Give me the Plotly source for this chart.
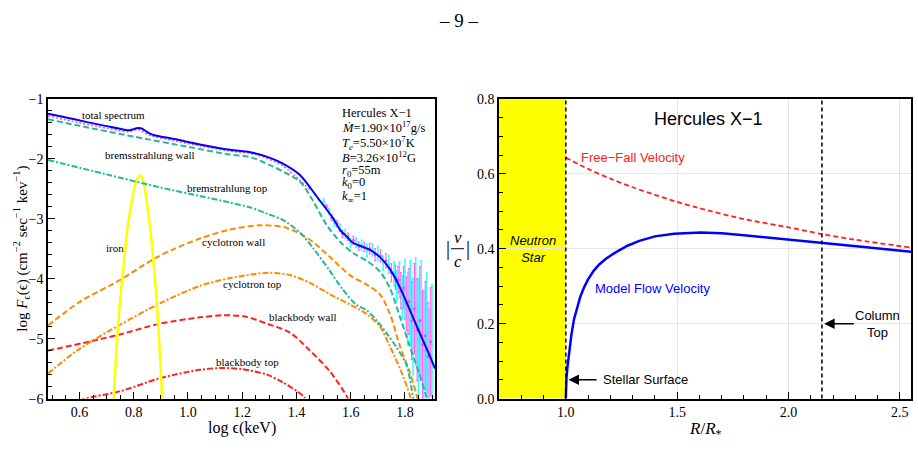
import plotly.graph_objects as go

W, H = 918, 453

# ---------------- Left panel: spectrum (log eps vs log F) ----------------
total_x = [0.484, 0.55, 0.62, 0.70, 0.76, 0.785, 0.80, 0.815, 0.83, 0.845, 0.86, 0.88, 0.95, 1.044,
           1.155, 1.229, 1.30, 1.35, 1.413, 1.48, 1.535, 1.56, 1.586, 1.608, 1.634, 1.671, 1.708,
           1.745, 1.782, 1.818, 1.855, 1.892, 1.911]
total_y = [-1.25, -1.31, -1.38, -1.455, -1.51, -1.525, -1.505, -1.485, -1.495, -1.54, -1.58, -1.61,
           -1.67, -1.76, -1.85, -1.89, -1.98, -2.08, -2.27, -2.66, -2.99, -3.18, -3.30, -3.40, -3.45,
           -3.52, -3.64, -3.84, -4.15, -4.52, -4.91, -5.29, -5.50]

brem_wall_x = [0.484, 0.6, 0.8, 1.0, 1.155, 1.229, 1.30, 1.35, 1.413, 1.461, 1.511, 1.56, 1.608,
               1.659, 1.708, 1.745, 1.782, 1.818, 1.855, 1.88, 1.89]
brem_wall_y = [-1.34, -1.45, -1.63, -1.80, -1.93, -1.97, -2.10, -2.21, -2.38, -2.70, -3.10, -3.38,
               -3.57, -3.70, -3.88, -4.16, -4.64, -5.13, -5.61, -5.98, -6.1]

brem_top_x = [0.484, 0.7, 0.9, 1.044, 1.155, 1.229, 1.30, 1.35, 1.413, 1.46, 1.52, 1.571, 1.62,
              1.66, 1.70, 1.734, 1.77, 1.807, 1.83, 1.835]
brem_top_y = [-2.02, -2.26, -2.48, -2.62, -2.73, -2.81, -2.93, -3.02, -3.23, -3.48, -3.85, -4.18,
              -4.43, -4.53, -4.72, -4.92, -5.15, -5.45, -5.98, -6.1]

iron_x = [0.725, 0.728, 0.735, 0.743, 0.753, 0.765, 0.778, 0.798, 0.812, 0.823, 0.834, 0.844,
          0.860, 0.872, 0.882, 0.890, 0.897, 0.903, 0.905]
iron_y = [-6.1, -5.83, -5.29, -4.75, -4.21, -3.67, -3.13, -2.59, -2.33, -2.28, -2.35, -2.59,
          -3.13, -3.67, -4.21, -4.75, -5.29, -5.83, -6.1]

cyc_wall_x = [0.484, 0.60, 0.75, 0.878, 0.946, 1.044, 1.155, 1.265, 1.363, 1.45, 1.524, 1.597,
              1.659, 1.708, 1.745, 1.782, 1.818, 1.843, 1.85]
cyc_wall_y = [-4.78, -4.39, -4.02, -3.66, -3.51, -3.33, -3.18, -3.11, -3.15, -3.35, -3.64, -3.94,
              -4.10, -4.26, -4.59, -5.13, -5.56, -5.94, -6.1]

cyc_top_x = [0.484, 0.60, 0.749, 0.897, 1.044, 1.155, 1.25, 1.302, 1.376, 1.45, 1.524, 1.597,
             1.659, 1.708, 1.745, 1.782, 1.818, 1.825]
cyc_top_y = [-5.58, -5.17, -4.77, -4.41, -4.12, -3.99, -3.92, -3.90, -3.94, -4.07, -4.26, -4.43,
             -4.59, -4.80, -5.13, -5.50, -5.94, -6.1]

bb_wall_x = [0.484, 0.636, 0.749, 0.897, 1.044, 1.13, 1.21, 1.291, 1.376, 1.45, 1.524, 1.59, 1.595]
bb_wall_y = [-5.20, -5.05, -4.93, -4.75, -4.645, -4.61, -4.63, -4.75, -4.90, -5.20, -5.55, -6.0, -6.1]

bb_top_x = [0.60, 0.62, 0.749, 0.897, 1.044, 1.12, 1.20, 1.291, 1.35, 1.40, 1.43, 1.44]
bb_top_y = [-6.04, -6.0, -5.88, -5.66, -5.52, -5.49, -5.51, -5.60, -5.73, -5.87, -5.98, -6.05]

# observed data (low energy trace + scattered high-energy points)
obs_low_x = [0.484, 0.6, 0.7, 0.78, 0.815, 0.86, 0.95, 1.05, 1.15, 1.25, 1.35, 1.45]
obs_low_y = [-1.285, -1.40, -1.49, -1.55, -1.51, -1.61, -1.70, -1.79, -1.87, -1.93, -2.12, -2.52]

obs_cyan_x = [1.50, 1.52, 1.54, 1.56, 1.58, 1.60, 1.62, 1.64, 1.66, 1.68, 1.70, 1.72, 1.74, 1.76,
              1.77, 1.78, 1.79, 1.80, 1.81, 1.82, 1.83, 1.84, 1.85, 1.86, 1.87, 1.88, 1.89, 1.90]
obs_cyan_y = [-2.72, -2.88, -3.06, -3.15, -3.25, -3.40, -3.40, -3.44, -3.53, -3.52, -3.58, -3.74,
              -3.76, -3.92, -4.12, -4.02, -4.30, -4.18, -4.50, -4.40, -4.80, -4.55, -5.0, -4.7,
              -5.2, -4.9, -5.5, -5.1]
obs_cyan_err = [0.05, 0.05, 0.06, 0.06, 0.07, 0.07, 0.08, 0.08, 0.1, 0.1, 0.12, 0.12, 0.15, 0.2,
                0.25, 0.3, 0.35, 0.5, 0.6, 0.7, 0.8, 0.9, 1.0, 1.0, 1.0, 1.0, 1.0, 1.0]

obs_mag_x = [1.51, 1.53, 1.55, 1.57, 1.59, 1.61, 1.63, 1.65, 1.67, 1.69, 1.71, 1.73, 1.75, 1.765,
             1.775, 1.785, 1.795, 1.805, 1.815, 1.825, 1.835, 1.845, 1.855, 1.865, 1.875, 1.885, 1.895]
obs_mag_y = [-2.80, -2.98, -3.08, -3.25, -3.30, -3.36, -3.46, -3.47, -3.50, -3.60, -3.62, -3.70,
             -3.90, -3.98, -4.02, -4.20, -4.15, -4.42, -4.38, -4.70, -4.50, -4.85, -4.70, -5.10,
             -4.95, -5.30, -5.05]
obs_mag_err = [0.04, 0.05, 0.05, 0.06, 0.06, 0.07, 0.07, 0.08, 0.09, 0.1, 0.1, 0.12, 0.15, 0.2,
               0.22, 0.3, 0.35, 0.45, 0.55, 0.65, 0.75, 0.85, 0.9, 0.9, 0.9, 0.9, 0.9]

# ---------------- Right panel: velocity profile ----------------
ff_R = [1.0, 1.1, 1.2, 1.3, 1.4, 1.5, 1.6, 1.8, 2.0, 2.15, 2.3, 2.55]
ff_v = [0.643, 0.613, 0.587, 0.564, 0.544, 0.525, 0.508, 0.479, 0.457, 0.439, 0.424, 0.403]

model_R = [1.0, 1.001, 1.003, 1.0075, 1.015, 1.025, 1.037, 1.05, 1.065, 1.082, 1.10, 1.125, 1.15,
           1.18, 1.22, 1.277, 1.33, 1.40, 1.486, 1.605, 1.7, 1.8, 2.0, 2.15, 2.35, 2.55]
model_v = [0.0, 0.03, 0.055, 0.085, 0.122, 0.170, 0.212, 0.243, 0.272, 0.297, 0.318, 0.341, 0.358,
           0.373, 0.389, 0.408, 0.421, 0.433, 0.440, 0.443, 0.441, 0.436, 0.425, 0.416, 0.404,
           0.392]

star_R = [0.7, 1.0]
surface_R = 1.0
column_top_R = 2.15

left_xticks = [0.6, 0.8, 1.0, 1.2, 1.4, 1.6, 1.8]
left_yticks = [-6, -5, -4, -3, -2, -1]
right_xticks = [1.0, 1.5, 2.0, 2.5]
right_yticks = [0.0, 0.2, 0.4, 0.6, 0.8]

TEAL = "#22bb99"
ORANGE = "#ff8a00"
RED = "#ff2020"
SERIF = "Liberation Serif"
SANS = "Liberation Sans"
WALL_DASH = "6px,3px"
TOP_DASH = "6px,2px,2px,2px"

fig = go.Figure()

def L(x, y, color, width=2, dash="solid", xa="x", ya="y", shape="spline"):
    fig.add_trace(go.Scatter(x=x, y=y, mode="lines", xaxis=xa, yaxis=ya, showlegend=False,
                             hoverinfo="skip",
                             line=dict(color=color, width=width, dash=dash, shape=shape,
                                       smoothing=0.8 if shape == "spline" else None)))

# observed data
fig.add_trace(go.Scatter(x=obs_cyan_x, y=obs_cyan_y, mode="markers", xaxis="x", yaxis="y",
                         showlegend=False, marker=dict(color="#33ffff", size=3),
                         error_y=dict(type="data", array=obs_cyan_err, color="#33ffff",
                                      thickness=1.5, width=1)))
fig.add_trace(go.Scatter(x=obs_mag_x, y=obs_mag_y, mode="markers", xaxis="x", yaxis="y",
                         showlegend=False, marker=dict(color="#ff44ff", size=3),
                         error_y=dict(type="data", array=obs_mag_err, color="#ff66ff",
                                      thickness=1.2, width=1)))
L(obs_low_x, obs_low_y, "#ff44ff", 1.5, "2px,2px")

L(bb_top_x, bb_top_y, RED, 2, TOP_DASH)
L(bb_wall_x, bb_wall_y, RED, 2, WALL_DASH)
L(cyc_top_x, cyc_top_y, ORANGE, 2, TOP_DASH)
L(cyc_wall_x, cyc_wall_y, ORANGE, 2, WALL_DASH)
L(iron_x, iron_y, "#ffff00", 2.5)
L(brem_top_x, brem_top_y, TEAL, 2, TOP_DASH)
L(brem_wall_x, brem_wall_y, TEAL, 2, WALL_DASH)
L(total_x, total_y, "#0000ff", 2)

# right panel
L(ff_R, ff_v, RED, 1.8, "5px,3px", "x2", "y2")
L(model_R, model_v, "#0000ff", 2.5, "solid", "x2", "y2", shape="linear")

shapes = [
    dict(type="rect", xref="x2", yref="y2 domain", x0=star_R[0], x1=star_R[1], y0=0, y1=1,
         fillcolor="#ffff00", line=dict(width=0), layer="below"),
    dict(type="line", xref="x2", yref="y2 domain", x0=surface_R, x1=surface_R, y0=0, y1=1,
         line=dict(color="black", width=1.5, dash="4px,3px")),
    dict(type="line", xref="x2", yref="y2 domain", x0=column_top_R, x1=column_top_R, y0=0, y1=1,
         line=dict(color="black", width=1.5, dash="4px,3px")),
    # fraction bar of |v/c|
    dict(type="line", xref="paper", yref="paper", x0=451 / W, x1=464 / W,
         y0=1 - 250 / H, y1=1 - 250 / H, line=dict(color="black", width=1)),
]

ann = []

def A(text, x, y, size=11, font=SERIF, color="black", xanchor="center", xref="paper",
      yref="paper", **kw):
    ann.append(dict(text=text, x=x, y=y, xref=xref, yref=yref, showarrow=False,
                    xanchor=xanchor, yanchor="middle",
                    font=dict(family=font, size=size, color=color), **kw))

def P(text, px, py, **kw):
    A(text, px / W, 1 - py / H, **kw)

# page number
P("– 9 –", 459, 14, size=19)

# left labels
P("total spectrum", 113, 112)
P("bremsstrahlung wall", 150, 153)
P("bremstrahlung top", 227, 187)
P("iron", 115, 249)
P("cyclotron wall", 233, 243)
P("cyclotron top", 253, 286)
P("blackbody wall", 303, 321)
P("blackbody top", 247, 367)

info = ["Hercules X−1",
        "<i>Ṁ</i>=1.90×10<sup>17</sup>g/s",
        "<i>T<sub>e</sub></i>=5.50×10<sup>7</sup>K",
        "<i>B</i>=3.26×10<sup>12</sup>G",
        "<i>r</i><sub>0</sub>=55m",
        "<i>k</i><sub>0</sub>=0",
        "<i>k</i><sub>∞</sub>=1"]
info_py = [109.5, 124.5, 140.5, 155.5, 169.5, 182.5, 196.5]
for t, py in zip(info, info_py):
    P(t, 340, py, size=12.5, xanchor="left")

P("log <i>F</i><sub>ϵ</sub>(ϵ) (cm<sup>−2</sup> sec<sup>−1</sup> kev<sup>−1</sup>)", 21, 250,
  size=15, textangle=-90)
P("log ϵ(keV)", 242, 435, size=16)

# right labels
A("Hercules X−1", 1.641, 0.746, size=18, font=SANS, xref="x2", yref="y2")
A("Free−Fall Velocity", 1.058, 0.643, size=13, font=SANS, color=RED, xanchor="left",
  xref="x2", yref="y2")
A("Model Flow Velocity", 1.124, 0.293, size=13, font=SANS, color="#0000ff", xanchor="left",
  xref="x2", yref="y2")
A("<i>Neutron</i><br><i>Star</i>", 0.853, 0.40, size=13, font=SANS, xref="x2", yref="y2")
A("Stellar Surface", 1.157, 0.05, size=13, font=SANS, xanchor="left", xref="x2", yref="y2")
A("Column<br>Top", 2.398, 0.20, size=13, font=SANS, xref="x2", yref="y2")
ann.append(dict(text="", x=1.012, y=0.05, xref="x2", yref="y2", ax=1.145, ay=0.05,
                axref="x2", ayref="y2", showarrow=True, arrowhead=2, arrowsize=1.4,
                arrowwidth=1.5, arrowcolor="black"))
ann.append(dict(text="", x=2.16, y=0.20, xref="x2", yref="y2", ax=2.30, ay=0.20,
                axref="x2", ayref="y2", showarrow=True, arrowhead=2, arrowsize=1.4,
                arrowwidth=1.5, arrowcolor="black"))

# |v/c| label
P("|", 448, 250, size=20, font=SERIF)
P("|", 468, 250, size=20, font=SERIF)
P("<i>v</i>", 457.5, 238, size=17, font=SERIF)
P("<i>c</i>", 457.5, 263, size=17, font=SERIF)
P("<i>R</i>/<i>R</i><sub>*</sub>", 705, 437, size=17, font=SERIF)

ydom = [1 - 405 / H, 1 - 95 / H]
LX_DOM = [48 / W, 435 / W]
RX_DOM = [499 / W, 911 / W]
LX_RANGE = [0.484, 1.911]
LY_RANGE = [-6, -1]
RX_RANGE = [0.7, 2.55]
RY_RANGE = [0, 0.8]

tick_common = dict(ticks="inside", ticklen=7, tickwidth=1, tickcolor="black", zeroline=False,
                   tickfont=dict(family=SERIF, size=14, color="black"))
axis_common = dict(showline=True, linecolor="black", linewidth=1.5, mirror=True, **tick_common)

def minor(d):
    return dict(dtick=d, tick0=0.0, ticks="inside", ticklen=4, tickcolor="black", showgrid=False)

def mirror_axis(overlay, side, anchor, rng, vals, d):
    return dict(overlaying=overlay, side=side, anchor=anchor, range=rng, tickvals=vals,
                showticklabels=False, showgrid=False, showline=False, minor=minor(d),
                **tick_common)

fig.update_layout(
    width=W, height=H, margin=dict(l=0, r=0, t=0, b=0),
    paper_bgcolor="white", plot_bgcolor="white", showlegend=False,
    xaxis=dict(domain=LX_DOM, range=LX_RANGE, anchor="y",
               tickvals=left_xticks, ticktext=[f"{v:.1f}" for v in left_xticks], showgrid=False,
               minor=minor(0.05), **axis_common),
    yaxis=dict(domain=ydom, range=LY_RANGE, anchor="x",
               tickvals=left_yticks, ticktext=[f"−{abs(v)}" for v in left_yticks], showgrid=False,
               minor=minor(0.2), **axis_common),
    xaxis2=dict(domain=RX_DOM, range=RX_RANGE, anchor="y2",
                tickvals=right_xticks, ticktext=[f"{v:.1f}" for v in right_xticks],
                showgrid=True, gridcolor="#e6e6e6", gridwidth=1,
                minor=minor(0.1), **axis_common),
    yaxis2=dict(domain=ydom, range=RY_RANGE, anchor="x2",
                tickvals=right_yticks, ticktext=[f"{v:.1f}" for v in right_yticks],
                showgrid=True, gridcolor="#e6e6e6", gridwidth=1,
                minor=minor(0.05), **axis_common),
    xaxis3=mirror_axis("x", "top", "y", LX_RANGE, left_xticks, 0.05),
    yaxis3=mirror_axis("y", "right", "x", LY_RANGE, left_yticks, 0.2),
    xaxis4=mirror_axis("x2", "top", "y2", RX_RANGE, right_xticks, 0.1),
    yaxis4=mirror_axis("y2", "right", "x2", RY_RANGE, right_yticks, 0.05),
    shapes=shapes,
    annotations=ann,
)

fig.write_html("out.html")
